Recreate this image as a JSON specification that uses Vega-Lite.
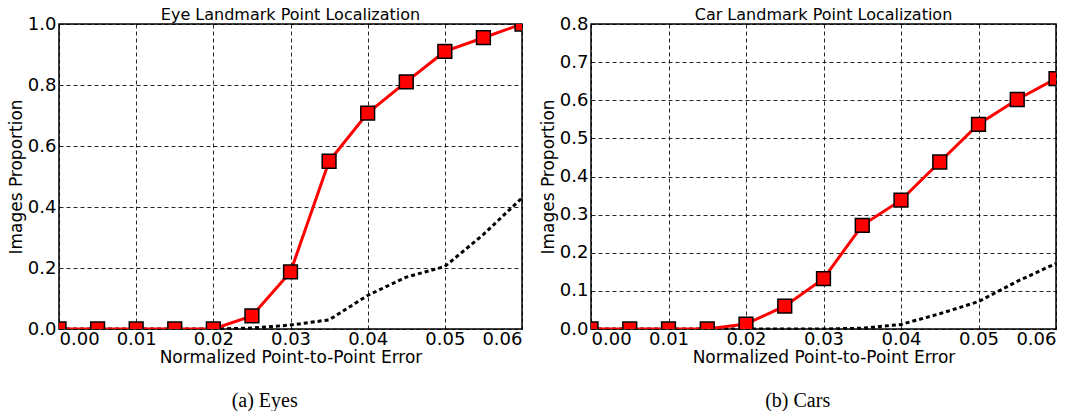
{
  "$schema": "https://vega.github.io/schema/vega-lite/v6.json",
  "background": "white",
  "padding": {"left": 6, "top": 6, "right": 0, "bottom": 0},
  "spacing": 15,
  "datasets": {
    "eyes": [
      {"err": 0.000, "ours": 0.0, "base": 0.0},
      {"err": 0.005, "ours": 0.0, "base": 0.0},
      {"err": 0.010, "ours": 0.0, "base": 0.0},
      {"err": 0.015, "ours": 0.0, "base": 0.0},
      {"err": 0.020, "ours": 0.0, "base": 0.0},
      {"err": 0.025, "ours": 0.043, "base": 0.003},
      {"err": 0.030, "ours": 0.187, "base": 0.013},
      {"err": 0.035, "ours": 0.55, "base": 0.03},
      {"err": 0.040, "ours": 0.708, "base": 0.11},
      {"err": 0.045, "ours": 0.81, "base": 0.17},
      {"err": 0.050, "ours": 0.91, "base": 0.205},
      {"err": 0.055, "ours": 0.955, "base": 0.31},
      {"err": 0.060, "ours": 1.0, "base": 0.43}
    ],
    "cars": [
      {"err": 0.000, "ours": 0.0, "base": 0.0},
      {"err": 0.005, "ours": 0.0, "base": 0.0},
      {"err": 0.010, "ours": 0.0, "base": 0.0},
      {"err": 0.015, "ours": 0.0, "base": 0.0},
      {"err": 0.020, "ours": 0.013, "base": 0.0},
      {"err": 0.025, "ours": 0.06, "base": 0.0},
      {"err": 0.030, "ours": 0.132, "base": 0.0},
      {"err": 0.035, "ours": 0.272, "base": 0.002},
      {"err": 0.040, "ours": 0.338, "base": 0.012},
      {"err": 0.045, "ours": 0.438, "base": 0.04},
      {"err": 0.050, "ours": 0.537, "base": 0.072},
      {"err": 0.055, "ours": 0.602, "base": 0.125},
      {"err": 0.060, "ours": 0.657, "base": 0.172}
    ]
  },
  "config": {
    "view": {"stroke": "black", "strokeWidth": 1.5},
    "font": "DejaVu Sans",
    "axis": {
      "domain": false,
      "ticks": false,
      "grid": true,
      "gridColor": "black",
      "gridOpacity": 0.85,
      "gridDash": [4, 3],
      "gridWidth": 1,
      "labelFont": "DejaVu Sans",
      "labelFontSize": 18,
      "labelColor": "black",
      "titleFont": "DejaVu Sans",
      "titleFontSize": 17,
      "titleFontWeight": "normal",
      "titleColor": "black",
      "labelPadding": 3
    },
    "title": {"font": "DejaVu Sans", "fontSize": 16, "fontWeight": "normal", "color": "black"}
  },
  "hconcat": [
    {
      "title": {"text": "(a) Eyes", "orient": "bottom", "anchor": "middle", "font": "Liberation Serif", "fontSize": 20, "fontWeight": "normal", "offset": 25},
      "vconcat": [
        {
          "width": 463,
          "height": 305,
          "title": {"text": "Eye Landmark Point Localization", "offset": -8, "frame": "group"},
          "data": {"name": "eyes"},
          "encoding": {
            "x": {"field": "err", "type": "quantitative", "title": "Normalized Point-to-Point Error",
                  "scale": {"domain": [0, 0.06], "nice": false},
                  "axis": {"values": [0, 0.01, 0.02, 0.03, 0.04, 0.05, 0.06], "format": ".2f", "titlePadding": 1, "labelPadding": 1}},
            "y": {"field": "ours", "type": "quantitative", "title": "Images Proportion",
                "scale": {"domain": [0, 1], "nice": false},
                "axis": {"values": [0, 0.2, 0.4, 0.6, 0.8, 1.0], "format": ".1f", "titlePadding": 2}}
          },
          "layer": [
            {
              "mark": {"type": "line", "color": "black", "strokeWidth": 3, "strokeDash": [4, 3], "clip": true},
              "encoding": {"y": {"field": "base", "type": "quantitative", "title": "Images Proportion",
                "scale": {"domain": [0, 1], "nice": false},
                "axis": {"values": [0, 0.2, 0.4, 0.6, 0.8, 1.0], "format": ".1f", "titlePadding": 2}}}
            },
            {
              "mark": {"type": "line", "color": "#ff0000", "strokeWidth": 3, "clip": true}
            },
            {
              "mark": {"type": "point", "shape": "square", "size": 190, "filled": true, "fill": "#ff0000", "stroke": "black", "strokeWidth": 1.5, "opacity": 1, "clip": true}
            }
          ]
        }
      ]
    },
    {
      "title": {"text": "(b) Cars", "orient": "bottom", "anchor": "middle", "font": "Liberation Serif", "fontSize": 20, "fontWeight": "normal", "offset": 25},
      "vconcat": [
        {
          "width": 465,
          "height": 305,
          "title": {"text": "Car Landmark Point Localization", "offset": -8, "frame": "group"},
          "data": {"name": "cars"},
          "encoding": {
            "x": {"field": "err", "type": "quantitative", "title": "Normalized Point-to-Point Error",
                  "scale": {"domain": [0, 0.06], "nice": false},
                  "axis": {"values": [0, 0.01, 0.02, 0.03, 0.04, 0.05, 0.06], "format": ".2f", "titlePadding": 1, "labelPadding": 1}},
            "y": {"field": "ours", "type": "quantitative", "title": "Images Proportion",
                "scale": {"domain": [0, 0.8], "nice": false},
                "axis": {"values": [0, 0.1, 0.2, 0.3, 0.4, 0.5, 0.6, 0.7, 0.8], "format": ".1f", "titlePadding": 2}}
          },
          "layer": [
            {
              "mark": {"type": "line", "color": "black", "strokeWidth": 3, "strokeDash": [4, 3], "clip": true},
              "encoding": {"y": {"field": "base", "type": "quantitative", "title": "Images Proportion",
                "scale": {"domain": [0, 0.8], "nice": false},
                "axis": {"values": [0, 0.1, 0.2, 0.3, 0.4, 0.5, 0.6, 0.7, 0.8], "format": ".1f", "titlePadding": 2}}}
            },
            {
              "mark": {"type": "line", "color": "#ff0000", "strokeWidth": 3, "clip": true}
            },
            {
              "mark": {"type": "point", "shape": "square", "size": 190, "filled": true, "fill": "#ff0000", "stroke": "black", "strokeWidth": 1.5, "opacity": 1, "clip": true}
            }
          ]
        }
      ]
    }
  ]
}
